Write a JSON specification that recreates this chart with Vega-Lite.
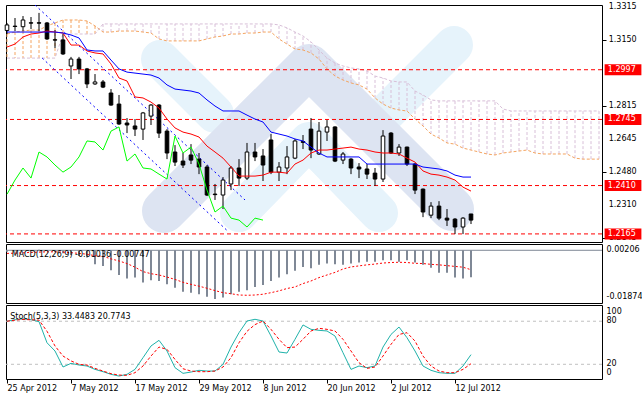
{
"$schema": "https://vega.github.io/schema/vega-lite/v6.json",
"background": "white",
"padding": {"left": 4, "top": 2, "right": 0, "bottom": 0},
"spacing": 2,
"bounds": "flush",
"datasets": {
"bars": [
{"i":0,"o":1.3196,"h":1.3234,"l":1.3178,"c":1.3224,"tk":1.3112,"kj":1.3188,"ck":1.2366,"m":-0.0006,"s":-0.0012,"k":80,"d":80},
{"i":1,"o":1.3218,"h":1.3259,"l":1.3193,"c":1.3216,"tk":1.3127,"kj":1.3188,"ck":1.2438,"m":-0.0004,"s":-0.0011,"k":82,"d":81.5},
{"i":2,"o":1.3215,"h":1.3269,"l":1.3193,"c":1.3249,"tk":1.3163,"kj":1.3188,"ck":1.2499,"m":-0.0002,"s":-0.0010,"k":83.2,"d":82.5},
{"i":3,"o":1.3235,"h":1.3264,"l":1.3203,"c":1.3233,"tk":1.3178,"kj":1.3188,"ck":1.2448,"m":0.0,"s":-0.0008,"k":82.2,"d":82},
{"i":4,"o":1.3235,"h":1.3285,"l":1.3193,"c":1.3233,"tk":1.3183,"kj":1.3188,"ck":1.2580,"m":0.0002,"s":-0.0007,"k":79.4,"d":81.5},
{"i":5,"o":1.3234,"h":1.3239,"l":1.3148,"c":1.3153,"tk":1.3193,"kj":1.3188,"ck":1.2555,"m":-0.0002,"s":-0.0006,"k":50,"d":66},
{"i":6,"o":1.3149,"h":1.3198,"l":1.3107,"c":1.3147,"tk":1.3188,"kj":1.3188,"ck":1.2514,"m":-0.0006,"s":-0.0006,"k":38.5,"d":45.5},
{"i":7,"o":1.3148,"h":1.3178,"l":1.3072,"c":1.3077,"tk":1.3183,"kj":1.3183,"ck":1.2478,"m":-0.0011,"s":-0.0007,"k":16.2,"d":31.5},
{"i":8,"o":1.3016,"h":1.3062,"l":1.2950,"c":1.3051,"tk":1.3122,"kj":1.3173,"ck":1.2504,"m":-0.0018,"s":-0.0009,"k":21.3,"d":24.7},
{"i":9,"o":1.3051,"h":1.3062,"l":1.2975,"c":1.3001,"tk":1.3122,"kj":1.3158,"ck":1.2555,"m":-0.0022,"s":-0.0012,"k":19,"d":19.9},
{"i":10,"o":1.3001,"h":1.3006,"l":1.2904,"c":1.2925,"tk":1.3092,"kj":1.3097,"ck":1.2636,"m":-0.0028,"s":-0.0015,"k":17.6,"d":19},
{"i":11,"o":1.2925,"h":1.2975,"l":1.2920,"c":1.2935,"tk":1.3082,"kj":1.3092,"ck":1.2631,"m":-0.0054,"s":-0.0021,"k":12.9,"d":14.3},
{"i":12,"o":1.2935,"h":1.2945,"l":1.2904,"c":1.2909,"tk":1.3077,"kj":1.3092,"ck":1.2590,"m":-0.0060,"s":-0.0023,"k":9.7,"d":10.6},
{"i":13,"o":1.2879,"h":1.2899,"l":1.2815,"c":1.2818,"tk":1.3026,"kj":1.3046,"ck":1.2686,"m":-0.0077,"s":-0.0033,"k":6,"d":6.9},
{"i":14,"o":1.2823,"h":1.2869,"l":1.2717,"c":1.2722,"tk":1.2955,"kj":1.3001,"ck":1.2707,"m":-0.0095,"s":-0.0041,"k":3.6,"d":5},
{"i":15,"o":1.2727,"h":1.2752,"l":1.2676,"c":1.2717,"tk":1.2940,"kj":1.2985,"ck":1.2534,"m":-0.0108,"s":-0.0051,"k":6,"d":4.6},
{"i":16,"o":1.2712,"h":1.2747,"l":1.2661,"c":1.2696,"tk":1.2859,"kj":1.2980,"ck":1.2570,"m":-0.0105,"s":-0.0065,"k":12.9,"d":8.3},
{"i":17,"o":1.2696,"h":1.2783,"l":1.2641,"c":1.2778,"tk":1.2854,"kj":1.2975,"ck":1.2499,"m":-0.0124,"s":-0.0082,"k":29.2,"d":17.6},
{"i":18,"o":1.2762,"h":1.2823,"l":1.2717,"c":1.2818,"tk":1.2833,"kj":1.2970,"ck":1.2494,"m":-0.0115,"s":-0.0090,"k":45.5,"d":31.5},
{"i":19,"o":1.2818,"h":1.2823,"l":1.2651,"c":1.2676,"tk":1.2803,"kj":1.2955,"ck":1.2468,"m":-0.0118,"s":-0.0095,"k":53.4,"d":44},
{"i":20,"o":1.2686,"h":1.2696,"l":1.2544,"c":1.2575,"tk":1.2747,"kj":1.2920,"ck":1.2443,"m":-0.0131,"s":-0.0103,"k":38.5,"d":40.8},
{"i":21,"o":1.2580,"h":1.2615,"l":1.2509,"c":1.2529,"tk":1.2702,"kj":1.2899,"ck":1.2661,"m":-0.0144,"s":-0.0112,"k":15.3,"d":26.8},
{"i":22,"o":1.2534,"h":1.2575,"l":1.2499,"c":1.2514,"tk":1.2681,"kj":1.2894,"ck":1.2575,"m":-0.0159,"s":-0.0123,"k":7.4,"d":13.8},
{"i":23,"o":1.2565,"h":1.2620,"l":1.2519,"c":1.2539,"tk":1.2671,"kj":1.2889,"ck":1.2605,"m":-0.0163,"s":-0.0131,"k":9.2,"d":10.6},
{"i":24,"o":1.2544,"h":1.2575,"l":1.2468,"c":1.2504,"tk":1.2656,"kj":1.2879,"ck":1.2519,"m":-0.0169,"s":-0.0138,"k":11.6,"d":9.7},
{"i":25,"o":1.2504,"h":1.2514,"l":1.2357,"c":1.2362,"tk":1.2610,"kj":1.2844,"ck":1.2387,"m":-0.0179,"s":-0.0146,"k":10.6,"d":9.7},
{"i":26,"o":1.2367,"h":1.2418,"l":1.2337,"c":1.2364,"tk":1.2580,"kj":1.2813,"ck":1.2276,"m":-0.01874,"s":-0.0155,"k":10.6,"d":10.6},
{"i":27,"o":1.2362,"h":1.2453,"l":1.2291,"c":1.2438,"tk":1.2549,"kj":1.2788,"ck":1.2306,"m":-0.0182,"s":-0.0163,"k":19.9,"d":16.2},
{"i":28,"o":1.2418,"h":1.2509,"l":1.2387,"c":1.2499,"tk":1.2504,"kj":1.2788,"ck":1.2245,"m":-0.0169,"s":-0.0167,"k":44,"d":29.2},
{"i":29,"o":1.2499,"h":1.2544,"l":1.2408,"c":1.2448,"tk":1.2458,"kj":1.2788,"ck":1.2235,"m":-0.0159,"s":-0.0172,"k":64,"d":50},
{"i":30,"o":1.2448,"h":1.2626,"l":1.2438,"c":1.2580,"tk":1.2458,"kj":1.2767,"ck":1.2200,"m":-0.0154,"s":-0.0173,"k":80.3,"d":66},
{"i":31,"o":1.2580,"h":1.2626,"l":1.2534,"c":1.2555,"tk":1.2458,"kj":1.2747,"ck":1.2245,"m":-0.0141,"s":-0.0172,"k":82.7,"d":75.3},
{"i":32,"o":1.2560,"h":1.2595,"l":1.2433,"c":1.2514,"tk":1.2463,"kj":1.2732,"ck":1.2235,"m":-0.0133,"s":-0.0169,"k":80.3,"d":80.3},
{"i":33,"o":1.2641,"h":1.2671,"l":1.2468,"c":1.2478,"tk":1.2478,"kj":1.2681,"ck":null,"m":-0.0118,"s":-0.0163,"k":59.4,"d":68.7},
{"i":34,"o":1.2478,"h":1.2529,"l":1.2433,"c":1.2504,"tk":1.2478,"kj":1.2671,"ck":null,"m":-0.0105,"s":-0.0156,"k":37.1,"d":54.8},
{"i":35,"o":1.2499,"h":1.2610,"l":1.2468,"c":1.2555,"tk":1.2473,"kj":1.2661,"ck":null,"m":-0.0092,"s":-0.0147,"k":35.7,"d":43.2},
{"i":36,"o":1.2549,"h":1.2646,"l":1.2544,"c":1.2636,"tk":1.2519,"kj":1.2646,"ck":null,"m":-0.0079,"s":-0.0141,"k":54.8,"d":44},
{"i":37,"o":1.2633,"h":1.2666,"l":1.2595,"c":1.2629,"tk":1.2539,"kj":1.2636,"ck":null,"m":-0.0064,"s":-0.0128,"k":74.8,"d":54.8},
{"i":38,"o":1.2696,"h":1.2752,"l":1.2549,"c":1.2590,"tk":1.2575,"kj":1.2605,"ck":null,"m":-0.0069,"s":-0.0118,"k":68.7,"d":66.4},
{"i":39,"o":1.2570,"h":1.2732,"l":1.2565,"c":1.2686,"tk":1.2590,"kj":1.2575,"ck":null,"m":-0.0056,"s":-0.0105,"k":67.3,"d":70.1},
{"i":40,"o":1.2681,"h":1.2742,"l":1.2636,"c":1.2707,"tk":1.2590,"kj":1.2555,"ck":null,"m":-0.0051,"s":-0.0095,"k":66.4,"d":68.7},
{"i":41,"o":1.2707,"h":1.2710,"l":1.2529,"c":1.2534,"tk":1.2595,"kj":1.2555,"ck":null,"m":-0.0054,"s":-0.0085,"k":59.4,"d":66.4},
{"i":42,"o":1.2539,"h":1.2580,"l":1.2519,"c":1.2570,"tk":1.2600,"kj":1.2555,"ck":null,"m":-0.0056,"s":-0.0072,"k":36.1,"d":54.8},
{"i":43,"o":1.2544,"h":1.2549,"l":1.2468,"c":1.2499,"tk":1.2605,"kj":1.2555,"ck":null,"m":-0.0051,"s":-0.0064,"k":12.9,"d":38.5},
{"i":44,"o":1.2504,"h":1.2524,"l":1.2448,"c":1.2494,"tk":1.2595,"kj":1.2555,"ck":null,"m":-0.0047,"s":-0.0060,"k":17.6,"d":22.2},
{"i":45,"o":1.2494,"h":1.2519,"l":1.2443,"c":1.2468,"tk":1.2590,"kj":1.2519,"ck":null,"m":-0.0044,"s":-0.0056,"k":15.3,"d":14.3},
{"i":46,"o":1.2473,"h":1.2499,"l":1.2408,"c":1.2443,"tk":1.2580,"kj":1.2519,"ck":null,"m":-0.0044,"s":-0.0053,"k":17.6,"d":16.2},
{"i":47,"o":1.2443,"h":1.2691,"l":1.2428,"c":1.2661,"tk":1.2575,"kj":1.2519,"ck":null,"m":-0.0038,"s":-0.0049,"k":44,"d":31.5},
{"i":48,"o":1.2676,"h":1.2681,"l":1.2570,"c":1.2575,"tk":1.2575,"kj":1.2519,"ck":null,"m":-0.0038,"s":-0.0047,"k":61.6,"d":47.8},
{"i":49,"o":1.2575,"h":1.2620,"l":1.2560,"c":1.2605,"tk":1.2570,"kj":1.2519,"ck":null,"m":-0.0044,"s":-0.0046,"k":71.9,"d":61.6},
{"i":50,"o":1.2605,"h":1.2607,"l":1.2509,"c":1.2519,"tk":1.2549,"kj":1.2519,"ck":null,"m":-0.0038,"s":-0.0047,"k":57,"d":64},
{"i":51,"o":1.2519,"h":1.2524,"l":1.2367,"c":1.2387,"tk":1.2529,"kj":1.2519,"ck":null,"m":-0.0047,"s":-0.0050,"k":38.5,"d":52.4},
{"i":52,"o":1.2392,"h":1.2395,"l":1.2250,"c":1.2276,"tk":1.2484,"kj":1.2504,"ck":null,"m":-0.0056,"s":-0.0051,"k":17.6,"d":31.5},
{"i":53,"o":1.2260,"h":1.2326,"l":1.2245,"c":1.2306,"tk":1.2468,"kj":1.2499,"ck":null,"m":-0.0067,"s":-0.0054,"k":11.6,"d":17.6},
{"i":54,"o":1.2306,"h":1.2331,"l":1.2235,"c":1.2245,"tk":1.2463,"kj":1.2494,"ck":null,"m":-0.0086,"s":-0.0056,"k":8.3,"d":10.6},
{"i":55,"o":1.2245,"h":1.2291,"l":1.2205,"c":1.2235,"tk":1.2453,"kj":1.2484,"ck":null,"m":-0.0086,"s":-0.0059,"k":7.4,"d":8.3},
{"i":56,"o":1.2240,"h":1.2245,"l":1.2164,"c":1.2200,"tk":1.2438,"kj":1.2463,"ck":null,"m":-0.0105,"s":-0.0062,"k":7.4,"d":8.3},
{"i":57,"o":1.2200,"h":1.2250,"l":1.2164,"c":1.2245,"tk":1.2402,"kj":1.2453,"ck":null,"m":-0.0108,"s":-0.0065,"k":17.6,"d":12.9},
{"i":58,"o":1.2266,"h":1.2266,"l":1.2215,"c":1.2235,"tk":1.2382,"kj":1.2453,"ck":null,"m":-0.01036,"s":-0.00747,"k":33.45,"d":20.77}
],
"cloud": [
{"i":0,"a":1.3178,"b":1.3056},{"i":1,"a":1.3188,"b":1.3056},{"i":2,"a":1.3193,"b":1.3056},{"i":3,"a":1.3198,"b":1.3056},{"i":4,"a":1.3198,"b":1.3056},
{"i":5,"a":1.3219,"b":1.3056},{"i":6,"a":1.3234,"b":1.3056},{"i":7,"a":1.3249,"b":1.3178},{"i":8,"a":1.3249,"b":1.3178},{"i":9,"a":1.3249,"b":1.3178},
{"i":10,"a":1.3244,"b":1.3178},{"i":11,"a":1.3219,"b":1.3178},{"i":12,"a":1.3188,"b":1.3229},{"i":13,"a":1.3188,"b":1.3229},{"i":14,"a":1.3193,"b":1.3229},
{"i":15,"a":1.3193,"b":1.3229},{"i":16,"a":1.3193,"b":1.3229},{"i":17,"a":1.3188,"b":1.3229},{"i":18,"a":1.3183,"b":1.3229},{"i":19,"a":1.3153,"b":1.3229},
{"i":20,"a":1.3143,"b":1.3229},{"i":21,"a":1.3143,"b":1.3229},{"i":22,"a":1.3143,"b":1.3229},{"i":23,"a":1.3143,"b":1.3229},{"i":24,"a":1.3143,"b":1.3229},
{"i":25,"a":1.3153,"b":1.3229},{"i":26,"a":1.3163,"b":1.3229},{"i":27,"a":1.3168,"b":1.3229},{"i":28,"a":1.3178,"b":1.3229},{"i":29,"a":1.3178,"b":1.3229},
{"i":30,"a":1.3183,"b":1.3229},{"i":31,"a":1.3183,"b":1.3229},{"i":32,"a":1.3188,"b":1.3229},{"i":33,"a":1.3188,"b":1.3229},{"i":34,"a":1.3153,"b":1.3224},
{"i":35,"a":1.3127,"b":1.3209},{"i":36,"a":1.3102,"b":1.3188},{"i":37,"a":1.3097,"b":1.3168},{"i":38,"a":1.3082,"b":1.3138},{"i":39,"a":1.3051,"b":1.3097},
{"i":40,"a":1.3001,"b":1.3056},{"i":41,"a":1.2965,"b":1.3031},{"i":42,"a":1.2945,"b":1.3016},{"i":43,"a":1.2930,"b":1.3006},{"i":44,"a":1.2920,"b":1.3001},
{"i":45,"a":1.2899,"b":1.2991},{"i":46,"a":1.2854,"b":1.2965},{"i":47,"a":1.2823,"b":1.2955},{"i":48,"a":1.2803,"b":1.2940},{"i":49,"a":1.2793,"b":1.2935},
{"i":50,"a":1.2788,"b":1.2935},{"i":51,"a":1.2747,"b":1.2889},{"i":52,"a":1.2712,"b":1.2869},{"i":53,"a":1.2671,"b":1.2844},{"i":54,"a":1.2651,"b":1.2839},
{"i":55,"a":1.2626,"b":1.2839},{"i":56,"a":1.2620,"b":1.2839},{"i":57,"a":1.2600,"b":1.2839},{"i":58,"a":1.2590,"b":1.2839},{"i":59,"a":1.2580,"b":1.2839},
{"i":60,"a":1.2570,"b":1.2839},{"i":61,"a":1.2565,"b":1.2839},{"i":62,"a":1.2575,"b":1.2798},{"i":63,"a":1.2580,"b":1.2788},{"i":64,"a":1.2585,"b":1.2788},
{"i":65,"a":1.2590,"b":1.2788},{"i":66,"a":1.2575,"b":1.2788},{"i":67,"a":1.2570,"b":1.2788},{"i":68,"a":1.2570,"b":1.2788},{"i":69,"a":1.2570,"b":1.2788},
{"i":70,"a":1.2570,"b":1.2788},{"i":71,"a":1.2549,"b":1.2788},{"i":72,"a":1.2544,"b":1.2788},{"i":73,"a":1.2544,"b":1.2788},{"i":74,"a":1.2544,"b":1.2788}
],
"levels": [{"lv":1.2997},{"lv":1.2745},{"lv":1.2410},{"lv":1.2165}],
"priceTicks": [{"v":1.3315},{"v":1.3150},{"v":1.2815},{"v":1.2645},{"v":1.2480},{"v":1.2310},{"v":1.2145}],
"macdTicks": [{"v":0,"t":"0.00206"},{"v":-0.018,"t":"-0.01874"}],
"stochTicks": [{"v":93,"t":"100"},{"v":80,"t":"80"},{"v":20,"t":"20"},{"v":8,"t":"0"}],
"channel": [
{"ln":"u","i":3.5,"p":1.3325},{"ln":"u","i":29.75,"p":1.2337},
{"ln":"d","i":4.4,"p":1.3056},{"ln":"d","i":27.6,"p":1.2179}
],
"logoLight": [
{"part":"l1","ord":0,"i":19.125,"p":1.3051},{"part":"l1","ord":1,"i":26,"p":1.2773},
{"part":"l2","ord":0,"i":47.5,"p":1.2783},{"part":"l2","ord":1,"i":55.875,"p":1.3122},
{"part":"l3","ord":0,"i":29,"p":1.2271},{"part":"l3","ord":1,"i":37.75,"p":1.2636},{"part":"l3","ord":2,"i":46.5,"p":1.2271}
],
"logoDark": [
{"part":"d1","ord":0,"i":19.625,"p":1.2281},{"part":"d1","ord":1,"i":37.75,"p":1.3016},{"part":"d1","ord":2,"i":55.625,"p":1.2291}
],
"macdLevels": [{"v":0}],
"stochLevels": [{"v":80},{"v":20}],
"captions": [
{"panel":"macd","txt":"MACD(12,26,9) -0.01036 -0.00747"},
{"panel":"stoch","txt":"Stoch(5,3,3) 33.4483 20.7743"}
]
},
"vconcat": [
{
"width": 596, "height": 237,
"layer": [
{"data":{"name":"logoLight"},"mark":{"type":"line","color":"#E6F3FB","strokeWidth":38,"strokeCap":"round","strokeJoin":"round","clip":true},
 "encoding":{"x":{"field":"i","type":"quantitative","scale":{"domain":[-0.125,74.375],"nice":false,"zero":false,"padding":0},"axis":null},
  "y":{"field":"p","type":"quantitative","scale":{"domain":[1.2124,1.3325],"nice":false,"zero":false,"padding":0},"title":null,
   "axis":{"orient":"right","values":[1.3315,1.3150,1.2980,1.2815,1.2645,1.2480,1.2310,1.2145],"labels":false,"tickSize":4,"tickColor":"black","domain":false,"grid":false}},
  "detail":{"field":"part"},"order":{"field":"ord"}}},
{"data":{"name":"logoDark"},"mark":{"type":"line","color":"#DDE4F2","strokeWidth":44,"strokeCap":"round","strokeJoin":"round","clip":true},
 "encoding":{"x":{"field":"i","type":"quantitative","scale":{"domain":[-0.125,74.375],"nice":false,"zero":false,"padding":0},"axis":null},
  "y":{"field":"p","type":"quantitative","scale":{"domain":[1.2124,1.3325],"nice":false,"zero":false,"padding":0},"title":null},
  "detail":{"field":"part"},"order":{"field":"ord"}}},
{"data":{"name":"cloud"},"mark":{"type":"rule","strokeDash":[3,2],"strokeWidth":1,"clip":true},
 "encoding":{"x":{"field":"i","type":"quantitative","scale":{"domain":[-0.125,74.375],"nice":false,"zero":false,"padding":0},"axis":null},
  "y":{"field":"a","type":"quantitative","scale":{"domain":[1.2124,1.3325],"nice":false,"zero":false,"padding":0},"title":null},
  "y2":{"field":"b"},
  "color":{"condition":{"test":"datum.a >= datum.b","value":"#F4A460"},"value":"#D8BFD8"}}},
{"data":{"name":"cloud"},"mark":{"type":"line","color":"#F4A460","strokeDash":[3,2],"strokeWidth":1,"clip":true},
 "encoding":{"x":{"field":"i","type":"quantitative","scale":{"domain":[-0.125,74.375],"nice":false,"zero":false,"padding":0},"axis":null},
  "y":{"field":"a","type":"quantitative","scale":{"domain":[1.2124,1.3325],"nice":false,"zero":false,"padding":0},"title":null}}},
{"data":{"name":"cloud"},"mark":{"type":"line","color":"#D8BFD8","strokeDash":[3,2],"strokeWidth":1,"clip":true},
 "encoding":{"x":{"field":"i","type":"quantitative","scale":{"domain":[-0.125,74.375],"nice":false,"zero":false,"padding":0},"axis":null},
  "y":{"field":"b","type":"quantitative","scale":{"domain":[1.2124,1.3325],"nice":false,"zero":false,"padding":0},"title":null}}},
{"data":{"name":"levels"},"mark":{"type":"rule","color":"#FF0000","strokeDash":[4,3],"strokeWidth":1},
 "encoding":{"y":{"field":"lv","type":"quantitative","scale":{"domain":[1.2124,1.3325],"nice":false,"zero":false,"padding":0},"title":null}}},
{"data":{"name":"channel"},"mark":{"type":"line","color":"#0000FF","strokeDash":[2,3],"strokeWidth":1,"clip":true},
 "encoding":{"x":{"field":"i","type":"quantitative","scale":{"domain":[-0.125,74.375],"nice":false,"zero":false,"padding":0},"axis":null},
  "y":{"field":"p","type":"quantitative","scale":{"domain":[1.2124,1.3325],"nice":false,"zero":false,"padding":0},"title":null},
  "detail":{"field":"ln"}}},
{"data":{"name":"bars"},"mark":{"type":"rule","color":"black","strokeWidth":1},
 "encoding":{"x":{"field":"i","type":"quantitative","scale":{"domain":[-0.125,74.375],"nice":false,"zero":false,"padding":0},"axis":null},
  "y":{"field":"l","type":"quantitative","scale":{"domain":[1.2124,1.3325],"nice":false,"zero":false,"padding":0},"title":null},
  "y2":{"field":"h"}}},
{"data":{"name":"bars"},"mark":{"type":"bar","width":3.6,"stroke":"black","strokeWidth":1},
 "encoding":{"x":{"field":"i","type":"quantitative","scale":{"domain":[-0.125,74.375],"nice":false,"zero":false,"padding":0},"axis":null},
  "y":{"field":"o","type":"quantitative","scale":{"domain":[1.2124,1.3325],"nice":false,"zero":false,"padding":0},"title":null},
  "y2":{"field":"c"},
  "fill":{"condition":{"test":"datum.c >= datum.o","value":"white"},"value":"black"}}},
{"data":{"name":"bars"},"mark":{"type":"line","color":"#FF0000","strokeWidth":1},
 "encoding":{"x":{"field":"i","type":"quantitative","scale":{"domain":[-0.125,74.375],"nice":false,"zero":false,"padding":0},"axis":null},
  "y":{"field":"tk","type":"quantitative","scale":{"domain":[1.2124,1.3325],"nice":false,"zero":false,"padding":0},"title":null}}},
{"data":{"name":"bars"},"mark":{"type":"line","color":"#0000FF","strokeWidth":1},
 "encoding":{"x":{"field":"i","type":"quantitative","scale":{"domain":[-0.125,74.375],"nice":false,"zero":false,"padding":0},"axis":null},
  "y":{"field":"kj","type":"quantitative","scale":{"domain":[1.2124,1.3325],"nice":false,"zero":false,"padding":0},"title":null}}},
{"data":{"name":"bars"},"mark":{"type":"line","color":"#00FF00","strokeWidth":1},
 "encoding":{"x":{"field":"i","type":"quantitative","scale":{"domain":[-0.125,74.375],"nice":false,"zero":false,"padding":0},"axis":null},
  "y":{"field":"ck","type":"quantitative","scale":{"domain":[1.2124,1.3325],"nice":false,"zero":false,"padding":0},"title":null}}},
{"data":{"name":"priceTicks"},"mark":{"type":"text","align":"left","baseline":"middle","color":"black","font":"DejaVu Sans","fontSize":8,"clip":false},
 "encoding":{"x":{"datum":75.21,"type":"quantitative","scale":{"domain":[-0.125,74.375],"nice":false,"zero":false,"padding":0},"axis":null},
  "y":{"field":"v","type":"quantitative","scale":{"domain":[1.2124,1.3325],"nice":false,"zero":false,"padding":0},"title":null},
  "text":{"field":"v","format":".4f"}}},
{"data":{"name":"levels"},"mark":{"type":"bar","orient":"horizontal","height":11,"color":"#FF0000","clip":false},
 "encoding":{"x":{"datum":74.7,"type":"quantitative","scale":{"domain":[-0.125,74.375],"nice":false,"zero":false,"padding":0},"axis":null},
  "x2":{"datum":79.3},
  "y":{"field":"lv","type":"quantitative","scale":{"domain":[1.2124,1.3325],"nice":false,"zero":false,"padding":0},"title":null}}},
{"data":{"name":"levels"},"mark":{"type":"text","align":"left","baseline":"middle","color":"white","font":"DejaVu Sans","fontSize":8,"clip":false},
 "encoding":{"x":{"datum":75.1,"type":"quantitative","scale":{"domain":[-0.125,74.375],"nice":false,"zero":false,"padding":0},"axis":null},
  "y":{"field":"lv","type":"quantitative","scale":{"domain":[1.2124,1.3325],"nice":false,"zero":false,"padding":0},"title":null},
  "text":{"field":"lv","format":".4f"}}}
]
},
{
"width": 596, "height": 59,
"layer": [
{"data":{"name":"macdLevels"},"mark":{"type":"rule","color":"#7F8896","strokeWidth":1},
 "encoding":{"y":{"field":"v","type":"quantitative","scale":{"domain":[-0.02027,0.00242],"nice":false,"zero":false,"padding":0},"axis":null}}},
{"data":{"name":"bars"},"mark":{"type":"bar","width":2,"color":"#7F8896"},
 "encoding":{"x":{"field":"i","type":"quantitative","scale":{"domain":[-0.125,74.375],"nice":false,"zero":false,"padding":0},"axis":null},
  "y":{"field":"m","type":"quantitative","scale":{"domain":[-0.02027,0.00242],"nice":false,"zero":false,"padding":0},"axis":null},
  "y2":{"datum":0}}},
{"data":{"name":"bars"},"mark":{"type":"line","color":"#FF0000","strokeDash":[2,2],"strokeWidth":1},
 "encoding":{"x":{"field":"i","type":"quantitative","scale":{"domain":[-0.125,74.375],"nice":false,"zero":false,"padding":0},"axis":null},
  "y":{"field":"s","type":"quantitative","scale":{"domain":[-0.02027,0.00242],"nice":false,"zero":false,"padding":0},"axis":null}}},
{"data":{"name":"macdTicks"},"mark":{"type":"text","align":"left","baseline":"middle","color":"black","font":"DejaVu Sans","fontSize":8,"clip":false},
 "encoding":{"x":{"datum":74.94,"type":"quantitative","scale":{"domain":[-0.125,74.375],"nice":false,"zero":false,"padding":0},"axis":null},
  "y":{"field":"v","type":"quantitative","scale":{"domain":[-0.02027,0.00242],"nice":false,"zero":false,"padding":0},"axis":null},
  "text":{"field":"t"}}},
{"data":{"name":"captions"},"transform":[{"filter":"datum.panel == 'macd'"}],
 "mark":{"type":"text","align":"left","baseline":"alphabetic","color":"black","font":"DejaVu Sans","fontSize":8},
 "encoding":{"x":{"datum":0.6,"type":"quantitative","scale":{"domain":[-0.125,74.375],"nice":false,"zero":false,"padding":0},"axis":null},
  "y":{"datum":-0.00258,"type":"quantitative","scale":{"domain":[-0.02027,0.00242],"nice":false,"zero":false,"padding":0},"axis":null},
  "text":{"field":"txt"}}}
]
},
{
"width": 596, "height": 74,
"layer": [
{"data":{"name":"stochLevels"},"mark":{"type":"rule","color":"#C0C0C0","strokeDash":[3,3],"strokeWidth":1},
 "encoding":{"y":{"field":"v","type":"quantitative","scale":{"domain":[-0.5,102.6],"nice":false,"zero":false,"padding":0},"axis":null}}},
{"data":{"name":"bars"},"mark":{"type":"line","color":"#20B2AA","strokeWidth":1},
 "encoding":{"x":{"field":"i","type":"quantitative","scale":{"domain":[-0.125,74.375],"nice":false,"zero":false,"padding":0},"title":null,
   "axis":{"orient":"bottom","values":[0,8,16,24,32,40,48,56],"labelExpr":"datum.value == 0 ? '25 Apr 2012' : datum.value == 8 ? '7 May 2012' : datum.value == 16 ? '17 May 2012' : datum.value == 24 ? '29 May 2012' : datum.value == 32 ? '8 Jun 2012' : datum.value == 40 ? '20 Jun 2012' : datum.value == 48 ? '2 Jul 2012' : '12 Jul 2012'","labelAlign":"left","tickSize":4,"tickColor":"black","labelPadding":1,"labelFont":"DejaVu Sans","labelFontSize":8,"labelColor":"black","domain":false,"grid":false,"labelOverlap":false,"labelFlush":false}},
  "y":{"field":"k","type":"quantitative","scale":{"domain":[-0.5,102.6],"nice":false,"zero":false,"padding":0},"axis":null}}},
{"data":{"name":"bars"},"mark":{"type":"line","color":"#FF0000","strokeDash":[3,2],"strokeWidth":1},
 "encoding":{"x":{"field":"i","type":"quantitative","scale":{"domain":[-0.125,74.375],"nice":false,"zero":false,"padding":0},"title":null},
  "y":{"field":"d","type":"quantitative","scale":{"domain":[-0.5,102.6],"nice":false,"zero":false,"padding":0},"axis":null}}},
{"data":{"name":"stochTicks"},"mark":{"type":"text","align":"left","baseline":"middle","color":"black","font":"DejaVu Sans","fontSize":8,"clip":false},
 "encoding":{"x":{"datum":74.94,"type":"quantitative","scale":{"domain":[-0.125,74.375],"nice":false,"zero":false,"padding":0},"title":null},
  "y":{"field":"v","type":"quantitative","scale":{"domain":[-0.5,102.6],"nice":false,"zero":false,"padding":0},"axis":null},
  "text":{"field":"t"}}},
{"data":{"name":"captions"},"transform":[{"filter":"datum.panel == 'stoch'"}],
 "mark":{"type":"text","align":"left","baseline":"alphabetic","color":"black","font":"DejaVu Sans","fontSize":8},
 "encoding":{"x":{"datum":0.4,"type":"quantitative","scale":{"domain":[-0.125,74.375],"nice":false,"zero":false,"padding":0},"title":null},
  "y":{"datum":83.1,"type":"quantitative","scale":{"domain":[-0.5,102.6],"nice":false,"zero":false,"padding":0},"axis":null},
  "text":{"field":"txt"}}}
]
}
],
"config": {"view": {"stroke": "black", "strokeWidth": 1}, "font": "DejaVu Sans", "scale": {"continuousPadding": 0}, "axis": {"labelOverlap": false}}
}
